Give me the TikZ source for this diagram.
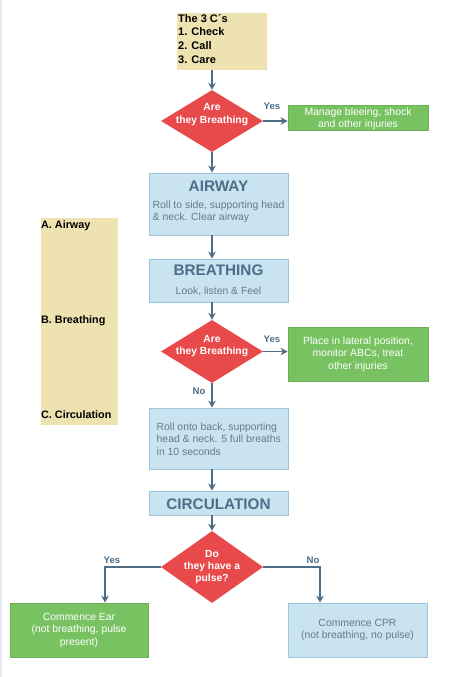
\documentclass[tikz,border=0pt]{standalone}
\usepackage{fontspec}
\setmainfont{Liberation Sans}
\usetikzlibrary{shapes.geometric,arrows.meta}
\definecolor{ybox}{HTML}{EEE2B1}
\definecolor{bfill}{HTML}{C9E3F0}
\definecolor{bline}{HTML}{9DC4DA}
\definecolor{steel}{HTML}{4D6E88}
\definecolor{btext}{HTML}{667B8B}
\definecolor{gfill}{HTML}{78C262}
\definecolor{gline}{HTML}{6BB257}
\definecolor{rfill}{HTML}{E84A4B}
\definecolor{edge}{HTML}{E6ECF3}
\tikzset{
  box/.style={draw=bline, fill=bfill, line width=0.8pt, inner sep=0pt},
  gbox/.style={draw=gline, fill=gfill, line width=0.8pt, inner sep=0pt, text=white, align=center, font=\fontsize{10.4}{12.5}\selectfont},
  dia/.style={shape=diamond, fill=rfill, inner sep=0pt, aspect=1.65},
  diatxt/.style={text=white, font=\bfseries\fontsize{10.3}{12.2}\selectfont, align=center, inner sep=0pt},
  ttl/.style={text=steel, font=\bfseries\fontsize{15.3}{16}\selectfont, inner sep=0pt},
  body/.style={text=btext, font=\fontsize{10.4}{12.2}\selectfont, inner sep=0pt},
  lbl/.style={text=steel, font=\bfseries\fontsize{9.6}{10}\selectfont, inner sep=0pt},
  abc/.style={text=black, font=\bfseries\fontsize{10.8}{12}\selectfont, inner sep=0pt, anchor=west},
  arr/.style={draw=steel, line width=1.8pt, -{Stealth[length=7pt,width=7.5pt]}},
}
\begin{document}
\begin{tikzpicture}[x=1pt,y=-1pt]
\useasboundingbox (0,0) rectangle (451,677);
\fill[edge] (0,0) rectangle (2,677);
% 3 C's
\node[fill=ybox, minimum width=90pt, minimum height=57pt, inner sep=0pt] (c3) at (222,41.5) {};
\node[anchor=north west, inner sep=0pt, align=left, font=\bfseries\fontsize{11}{13.6}\selectfont] (c3t) at (178,14) {The 3 C´s\\1. Check\\2. Call\\3. Care};
% left panel
\node[fill=ybox, minimum width=77pt, minimum height=207pt, inner sep=0pt] (abcp) at (79.5,321.5) {};
\node[abc] (pa) at (41,226) {A. Airway};
\node[abc] (pb) at (41,320.5) {B. Breathing};
\node[abc] (pc) at (41,414.5) {C. Circulation};
% diamond 1
\node[dia, minimum width=102pt, minimum height=62pt] (d1) at (212,121) {};
\node[diatxt] (d1t) at (212,114.5) {Are\\they Breathing};
\node[gbox, minimum width=140pt, minimum height=25pt] (g1) at (358,117.5) {};
\node[text=white, align=center, inner sep=0pt, font=\fontsize{10.4}{12.2}\selectfont] (g1t) at (358,119) {Manage bleeing, shock\\and other injuries};
% airway
\node[box, minimum width=139pt, minimum height=62pt] (air) at (218.5,204) {};
\node[ttl] (airt) at (218.5,186) {AIRWAY};
\node[body, anchor=north west, align=left] (airb) at (152.5,201) {Roll to side, supporting head\\\& neck. Clear airway};
% breathing
\node[box, minimum width=139pt, minimum height=43pt] (br) at (218.5,280.5) {};
\node[ttl] (brt) at (218.5,270) {BREATHING};
\node[body] (brb) at (218.5,291) {Look, listen \& Feel};
% diamond 2
\node[dia, minimum width=102pt, minimum height=63pt] (d2) at (212,351.5) {};
\node[diatxt] (d2t) at (212,346) {Are\\they Breathing};
\node[gbox, minimum width=140pt, minimum height=54pt] (g2) at (358,354) {Place in lateral position,\\monitor ABCs, treat\\other injuries};
% roll onto back
\node[box, minimum width=139pt, minimum height=61pt] (rb) at (218.5,438.5) {};
\node[body, anchor=north west, align=left] (rbt) at (156.5,423) {Roll onto back, supporting\\head \& neck. 5 full breaths\\in 10 seconds};
% circulation
\node[box, minimum width=139pt, minimum height=24pt] (ci) at (218.5,503) {};
\node[ttl] (cit) at (218.5,504) {CIRCULATION};
% diamond 3
\node[dia, minimum width=102pt, minimum height=72pt] (d3) at (212,567) {};
\node[diatxt] (d3t) at (212,567) {Do\\they have a\\pulse?};
% bottom boxes
\node[gbox, minimum width=138pt, minimum height=54pt] (g3) at (79,630) {Commence Ear\\(not breathing, pulse\\present)};
\node[box, minimum width=139pt, minimum height=54pt, text=btext, align=center, font=\fontsize{10.4}{12.2}\selectfont] (cpr) at (357.5,630) {Commence CPR\\(not breathing, no pulse)};
% connectors
\draw[arr] (c3.south -| d1.north) -- (d1.north);
\draw[arr] (d1.east) -- (g1.west |- d1.east);
\draw[arr] (d1.south) -- (d1.south |- air.north);
\draw[arr] (air.south -| d1.south) -- (br.north -| d1.south);
\draw[arr] (br.south -| d2.north) -- (d2.north);
\draw[arr] (d2.east) -- (g2.west |- d2.east);
\draw[arr] (d2.south) -- (d2.south |- rb.north);
\draw[arr] (rb.south -| d2.south) -- (ci.north -| d2.south);
\draw[arr] (ci.south -| d3.north) -- (d3.north);
\coordinate (yl) at (105,567);
\coordinate (nr) at (320,567);
\draw[arr] (d3.west) -- (yl) -- (yl |- g3.north);
\draw[arr] (d3.east) -- (nr) -- (nr |- cpr.north);
% labels
\node[lbl] (ly1) at (272,106) {Yes};
\node[lbl] (ly2) at (272,339) {Yes};
\node[lbl] (ln2) at (199,391.5) {No};
\node[lbl] (ly3) at (112,560) {Yes};
\node[lbl] (ln3) at (313,560) {No};
\end{tikzpicture}
\end{document}
